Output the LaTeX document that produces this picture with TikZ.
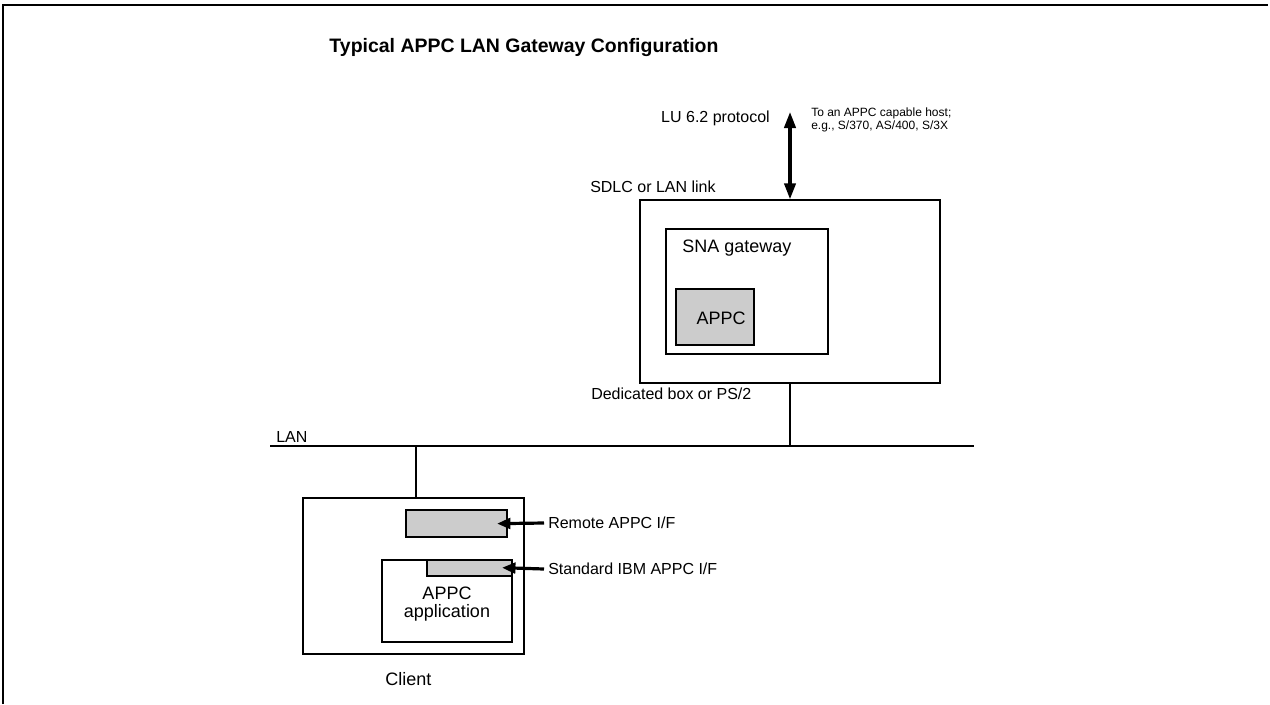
\documentclass[tikz,border=0pt]{standalone}
\usepackage{fontspec}
\setmainfont{Liberation Sans}
\usetikzlibrary{arrows.meta,fit}
\begin{document}
\begin{tikzpicture}[x=0.75pt,y=-0.75pt,
  box/.style={draw,line width=1.1pt,inner sep=0pt},
  shadebox/.style={box,fill=black!20},
  lbl/.style={inner sep=0pt,font=\fontsize{12}{14}\selectfont},
  biglbl/.style={inner sep=0pt,font=\fontsize{13.5}{15}\selectfont},
  small/.style={inner sep=0pt,align=left,font=\fontsize{9}{9.5}\selectfont},
  wire/.style={line width=1.4pt},
  hostarrow/.style={line width=2.4pt,{Triangle[width=8.5pt,length=12pt]}-{Triangle[width=8.5pt,length=12pt]}},
  ifarrow/.style={line width=2.4pt,-{Triangle[width=8pt,length=10pt]},shorten >=-8pt}]
\useasboundingbox (0,0) rectangle (1270,704);
% page frame
\draw[line width=1.2pt] (3,704) -- (3,5) -- (1268,5);
\node[inner sep=0pt,font=\bfseries\fontsize{14.6}{16}\selectfont] (title) at (524,48) {Typical APPC LAN Gateway Configuration};

% gateway machine
\node[box,fit={(640,200) (940,383)}] (gw) {};
\node[box,fit={(666,229) (828,354)}] (sna) {};
\node[shadebox,fit={(676,289) (754,345)}] (appc) {};
\node[biglbl,anchor=west] (snalbl) at (682,248) {SNA gateway};
\node[biglbl] (appclbl) at (721,318) {APPC};

% link to the host
\coordinate (host) at (790,112);
\draw[hostarrow] (host) -- (gw.north);
\node[lbl,anchor=east] (lu) at (770,118) {LU 6.2 protocol};
\node[small,anchor=west] (hostlbl) at (811,120) {To an APPC capable host;\\e.g., S/370, AS/400, S/3X};
\node[lbl,anchor=west] (sdlc) at (590,187) {SDLC or LAN link};
\node[lbl,anchor=west] (ded) at (591,394) {Dedicated box or PS/2};

% LAN
\coordinate (lanL) at (270,446);
\coordinate (lanR) at (974,446);
\coordinate (gwtap) at (790,446);
\coordinate (cltap) at (416,446);
\draw[wire] (lanL) -- (lanR);
\node[lbl,anchor=west] (lanlbl) at (276,437) {LAN};
\draw[wire] (gw.south) -- (gwtap);

% client machine
\node[box,fit={(303,498) (524,654)}] (client) {};
\draw[wire] (cltap) -- (cltap |- client.north);
\node[shadebox,fit={(406,510) (507,537)}] (remote) {};
\node[box,fit={(382,560) (512,642)}] (app) {};
\node[shadebox,fit={(427,560) (512,576)}] (std) {};
\node[biglbl,align=center,font=\fontsize{13.5}{13.5}\selectfont] (applbl) at (447,604) {APPC\\application};
\node[biglbl,anchor=west] (clientlbl) at (385,679) {Client};

\node[lbl,anchor=west] (remlbl) at (548,523) {Remote APPC I/F};
\node[lbl,anchor=west] (stdlbl) at (548,569) {Standard IBM APPC I/F};
\draw[ifarrow] ([xshift=-3pt]remlbl.west) -- (remote.east);
\draw[ifarrow] ([xshift=-3pt]stdlbl.west) -- (std.east);
\end{tikzpicture}
\end{document}
